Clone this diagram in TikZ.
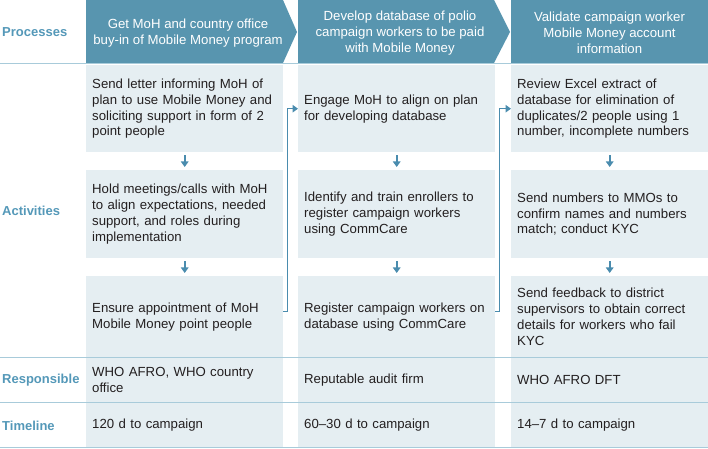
\documentclass[tikz,border=0pt]{standalone}
\usepackage{fontspec}
\setmainfont{Liberation Sans}
\usetikzlibrary{arrows.meta}
\definecolor{hdr}{RGB}{88,149,175}
\definecolor{lbl}{RGB}{84,152,184}
\definecolor{boxfill}{RGB}{229,238,242}
\definecolor{rule}{RGB}{168,203,218}
\definecolor{conn}{RGB}{74,140,174}
\definecolor{txt}{RGB}{35,31,32}
\newcommand{\bodyfont}{\fontsize{13.2bp}{15.8bp}\selectfont}
\begin{document}
\begin{tikzpicture}[x=1bp,y=-1bp,
  cell/.style={fill=boxfill, inner xsep=6bp, inner ysep=0pt, anchor=north west,
    text width=185bp, align=left, font=\bodyfont, text=txt},
  hdrtext/.style={text=white, align=center, font=\bodyfont, inner sep=0pt},
  rowlabel/.style={text=lbl, font=\fontsize{13bp}{15.6bp}\selectfont\bfseries, anchor=base west, inner sep=0pt},
  hline/.style={draw=rule, line width=1bp},
  darrow/.style={draw=conn, line width=1.7bp, -{Triangle[width=7.5bp,length=5.5bp]}},
  linkarrow/.style={draw=conn, line width=1.6bp, -{Triangle[width=7.5bp,length=5.5bp]}}
]
\useasboundingbox (0,0) rectangle (708,449);

% rule under Processes row
\draw[hline] (0,63.5) -- (708,63.5);

% headers
\fill[hdr] (86,0) -- (283,0) -- (297,32) -- (283,63) -- (86,63) -- cycle;
\fill[hdr] (298,0) -- (494,0) -- (510,32) -- (494,63) -- (298,63) -- cycle;
\fill[hdr] (511,0) rectangle (708,63);
\node[hdrtext] (h1) at (188,33) {Get MoH and country office\\buy-in of Mobile Money program};
\node[hdrtext] (h2) at (400,33) {Develop database of polio\\campaign workers to be paid\\with Mobile Money};
\node[hdrtext] (h3) at (609.5,33) {Validate campaign worker\\Mobile Money account\\information};

% column 1
\node[cell, minimum height=87bp] (b11) at (86,65) {Send letter informing MoH of\\plan to use Mobile Money and\\soliciting support in form of 2\\point people};
\node[cell, minimum height=88bp] (b12) at (86,170) {Hold meetings/calls with MoH\\to align expectations, needed\\support, and roles during\\implementation};
\node[cell, minimum height=81bp] (b13) at (86,276) {Ensure appointment of MoH\\Mobile Money point people};
\node[cell, minimum height=45bp] (r1) at (86,357) {WHO AFRO, WHO country\\office};
\node[cell, minimum height=46bp] (t1) at (86,402) {120 d to campaign};

% column 2
\node[cell, minimum height=87bp] (b21) at (298,65) {Engage MoH to align on plan\\for developing database};
\node[cell, minimum height=88bp] (b22) at (298,170) {Identify and train enrollers to\\register campaign workers\\using CommCare};
\node[cell, minimum height=81bp] (b23) at (298,276) {Register campaign workers on\\database using CommCare};
\node[cell, minimum height=45bp] (r2) at (298,357) {Reputable audit firm};
\node[cell, minimum height=46bp] (t2) at (298,402) {60–30 d to campaign};

% column 3
\node[cell, minimum height=87bp] (b31) at (511,65) {Review Excel extract of\\database for elimination of\\duplicates/2 people using 1\\number, incomplete numbers};
\node[cell, minimum height=88bp] (b32) at (511,170) {Send numbers to MMOs to\\confirm names and numbers\\match; conduct KYC};
\node[cell, minimum height=81bp] (b33) at (511,276) {Send feedback to district\\supervisors to obtain correct\\details for workers who fail\\KYC};
\node[cell, minimum height=45bp] (r3) at (511,357) {WHO AFRO DFT};
\node[cell, minimum height=46bp] (t3) at (511,402) {14–7 d to campaign};

% horizontal rules
\draw[hline] (0,357) -- (708,357);
\draw[hline] (0,402) -- (708,402);
\draw[hline] (0,447.5) -- (708,447.5);

% row labels
\node[rowlabel] (lp) at (2,37) {Processes};
\node[rowlabel] (la) at (2,216) {Activities};
\node[rowlabel] (lr) at (2,383) {Responsible};
\node[rowlabel] (lt) at (2,430) {Timeline};

% down arrows
\foreach \c in {1,2,3}{
  \draw[darrow] ([yshift=-3bp]b\c1.south) -- ([yshift=3bp]b\c2.north);
  \draw[darrow] ([yshift=-3bp]b\c2.south) -- ([yshift=3bp]b\c3.north);
}

% links between columns
\draw[linkarrow] ([yshift=5bp]b13.east) -- ++(4,0) |- (b21.west);
\draw[linkarrow] ([yshift=5bp]b23.east) -- ++(4,0) |- (b31.west);
\end{tikzpicture}
\end{document}
